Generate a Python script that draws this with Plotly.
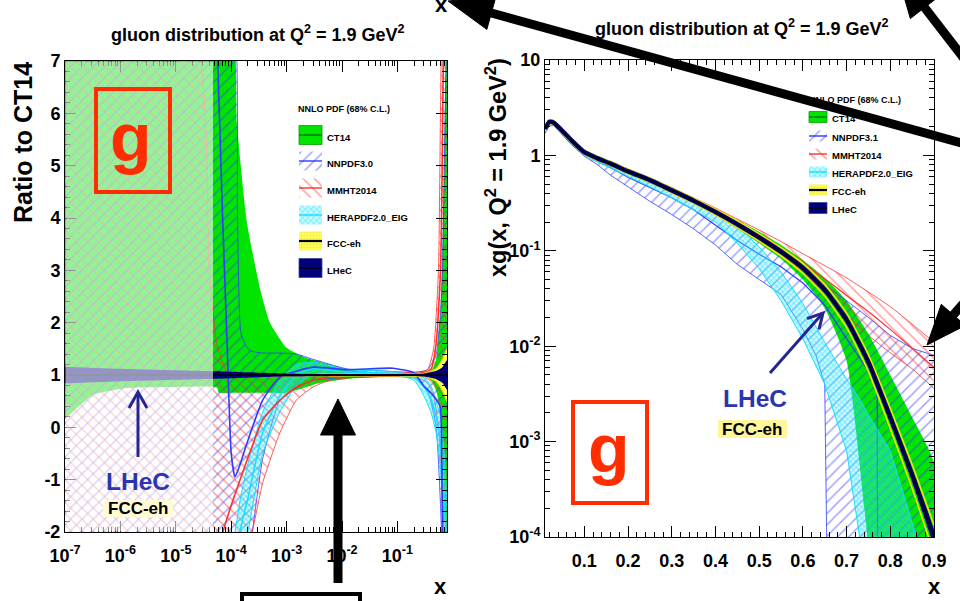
import math
import plotly.graph_objects as go

FONT = "Liberation Sans, Arial, Helvetica, sans-serif"

# ======================= LEFT PANEL: ratio to CT14 (log x) =======================
ct_r_x = [1e-7, 2e-7, 3.2e-7, 1.3e-6, 1e-5, 5.5e-5, 6e-5, 1.07e-4, 1.27e-4, 1.93e-4, 3.3e-4, 5e-4, 1e-3, 2e-3,
          4e-3, 0.0139, 0.0485, 0.1, 0.256, 0.35, 0.42, 0.5, 0.54, 0.6, 0.64, 0.7, 0.72, 0.785]
ct_r_lo = [0.15, 0.45, 0.62, 0.75, 0.77, 0.76, 0.66, 0.66, 0.66, 0.66, 0.66, 0.66, 0.66, 0.75,
           0.85, 0.93, 0.96, 0.97, 0.97, 0.94, 0.88, 0.7, 0.55, 0.2, -0.3, -1.2, -1.8, -3.0]
ct_r_hi = [7.5, 7.5, 7.5, 7.5, 7.5, 7.5, 7.5, 7.5, 5.8, 3.9, 2.66, 2.0, 1.52, 1.35,
           1.25, 1.1, 1.05, 1.04, 1.04, 1.06, 1.1, 1.3, 1.6, 2.2, 3.0, 5.0, 6.0, 8.0]

nn_r_x = [1e-7, 5.5e-5, 1.0e-4, 1.17e-4, 1.3e-4, 1.5e-4, 2e-4, 2.4e-4, 3.7e-4, 7.6e-4, 1.5e-3, 3e-3, 0.012,
          0.05, 0.2, 0.35, 0.5, 0.6, 0.65, 0.7, 0.785]
nn_r_lo = [-3.0, -3.0, -3.0, -3.0, -3.0, -3.0, -2.5, -2.0, -0.6, 0.52, 0.75, 0.9, 0.95,
           0.97, 0.95, 0.7, 0.0, -1.5, -2.5, -3.0, -3.0]
nn_r_hi = [7.5, 7.5, 7.5, 7.5, 4.0, 1.8, 1.5, 1.45, 1.42, 1.42, 1.4, 1.3, 1.12,
           1.08, 1.05, 1.1, 1.4, 2.2, 3.0, 5.0, 8.0]
nn_r_cx = [5.5e-5, 7e-5, 8.5e-5, 1.0e-4, 1.17e-4, 1.4e-4, 1.93e-4, 3.7e-4, 7.6e-4, 3e-3, 0.0123, 0.083,
           0.2, 0.29, 0.45, 0.59, 0.63, 0.66]
nn_r_c = [7.5, 4.0, 1.5, -0.5, -0.95, -0.75, -0.3, 0.52, 0.96, 1.15, 1.1, 1.13,
          1.04, 0.81, 0.6, 0.4, -0.5, -2.5]

mm_r_x = [1e-7, 2e-5, 4e-5, 5.5e-5, 8e-5, 1.4e-4, 2.4e-4, 3.7e-4, 7.6e-4, 1.5e-3, 3e-3, 6e-3, 0.02,
          0.1, 0.25, 0.35, 0.45, 0.55, 0.63, 0.7, 0.785]
mm_r_lo = [-3.0, -3.0, -3.0, -3.0, -3.0, -3.0, -2.0, -1.06, -0.1, 0.52, 0.77, 0.9, 0.96,
           0.97, 0.93, 0.85, 0.6, 0.0, -1.0, -2.0, -3.0]
mm_r_hi = [7.5, 7.5, 3.0, 1.6, 1.1, 1.0, 1.0, 1.0, 1.0, 1.0, 1.02, 1.03, 1.03,
           1.04, 1.06, 1.1, 1.5, 3.0, 7.5, 8.0, 8.0]
mm_r_cx = [6e-5, 7.1e-5, 1.07e-4, 1.93e-4, 3.7e-4, 7.6e-4, 1.5e-3, 3e-3, 0.012, 0.1, 0.25, 0.4, 0.5, 0.6, 0.68]
mm_r_c = [-2.5, -2.0, -1.4, -0.63, 0.14, 0.52, 0.77, 0.9, 1.0, 1.01, 1.03, 1.1, 1.6, 3.0, 7.5]

he_r_x = [1.17e-4, 1.5e-4, 2e-4, 3.7e-4, 7.6e-4, 1.5e-3, 3e-3, 0.012, 0.05, 0.1, 0.2, 0.3, 0.4, 0.5,
          0.6, 0.7, 0.785]
he_r_lo = [-3.0, -2.5, -2.0, -0.5, 0.3, 0.8, 1.0, 1.0, 1.0, 0.99, 0.9, 0.6, 0.3, -0.1,
           -0.8, -2.5, -3.0]
he_r_hi = [-2.0, -1.3, -0.7, 0.3, 0.9, 1.2, 1.25, 1.1, 1.08, 1.05, 1.0, 0.95, 0.8, 0.5,
           0.2, -0.5, -1.5]

eh_r_x = [1e-7, 1e-6, 1e-5, 5.5e-5, 1e-4, 1e-3, 0.01, 0.1, 0.3, 0.5, 0.65, 0.785]
fcc_r_hw = [0.08, 0.07, 0.05, 0.04, 0.035, 0.02, 0.015, 0.015, 0.03, 0.12, 0.3, 0.5]
lhec_r_hw = [0.16, 0.12, 0.09, 0.07, 0.06, 0.03, 0.018, 0.018, 0.03, 0.08, 0.15, 0.28]
ratio_ref_x = [1e-7, 0.785]
ratio_ref_y = [1.0, 1.0]

left_xticks = [1e-7, 1e-6, 1e-5, 1e-4, 1e-3, 1e-2, 1e-1]
left_xtext = ["10<sup>-7</sup>", "10<sup>-6</sup>", "10<sup>-5</sup>", "10<sup>-4</sup>",
              "10<sup>-3</sup>", "10<sup>-2</sup>", "10<sup>-1</sup>"]
left_yticks = [-2, -1, 0, 1, 2, 3, 4, 5, 6, 7]
left_ytext = ["-2", "-1", "0", "1", "2", "3", "4", "5", "6", "7"]

# ======================= RIGHT PANEL: xg(x) (log y) =======================
g_x = [0.01, 0.02, 0.03, 0.05, 0.07, 0.1, 0.13, 0.16, 0.2, 0.25, 0.3, 0.35, 0.4, 0.45, 0.5, 0.55,
       0.6, 0.65, 0.7, 0.75, 0.8, 0.85, 0.9]
g_c = [1.9, 2.25, 2.2, 1.8, 1.45, 1.08, 0.93, 0.82, 0.68, 0.55, 0.43, 0.335, 0.255, 0.19, 0.138, 0.098,
       0.066, 0.039, 0.019, 0.0068, 0.0018, 0.00045, 0.0001]
ct_g_lo = [1.75, 2.1, 2.05, 1.68, 1.35, 1.0, 0.86, 0.76, 0.63, 0.51, 0.4, 0.31, 0.235, 0.17, 0.12, 0.082,
           0.05, 0.025, 0.007, 0.00008, 0.000001, 0.000001, 0.000001]
ct_g_hi = [2.0, 2.38, 2.35, 1.93, 1.55, 1.16, 1.0, 0.88, 0.73, 0.59, 0.465, 0.36, 0.278, 0.21, 0.158, 0.115,
           0.08, 0.052, 0.03, 0.0135, 0.005, 0.0018, 0.0006]
fcc_g_rel = [0.05, 0.05, 0.05, 0.05, 0.05, 0.05, 0.05, 0.05, 0.05, 0.05, 0.06, 0.06, 0.07, 0.08, 0.09, 0.1,
             0.12, 0.14, 0.17, 0.2, 0.24, 0.28, 0.33]
lhec_g_rel = [0.025, 0.025, 0.025, 0.025, 0.025, 0.025, 0.025, 0.025, 0.025, 0.025, 0.03, 0.03, 0.035, 0.04,
              0.045, 0.05, 0.06, 0.07, 0.085, 0.1, 0.12, 0.14, 0.16]

nn_g_x = [0.01, 0.02, 0.03, 0.05, 0.07, 0.1, 0.13, 0.16, 0.2, 0.25, 0.3, 0.35, 0.4, 0.45, 0.5, 0.55, 0.6,
          0.63, 0.65, 0.66, 0.7, 0.75, 0.8, 0.85, 0.9]
nn_g_lo = [1.7, 2.05, 2.05, 1.65, 1.3, 0.98, 0.8, 0.62, 0.47, 0.33, 0.24, 0.17, 0.115, 0.072, 0.05, 0.035,
           0.015, 0.008, 0.004, 0.000001, 0.000001, 0.000001, 0.000001, 0.000001, 0.000001]
nn_g_hi = [1.95, 2.3, 2.3, 1.88, 1.5, 1.12, 0.96, 0.85, 0.7, 0.57, 0.445, 0.345, 0.262, 0.195, 0.142, 0.1, 0.07,
           0.055, 0.045, 0.041, 0.03, 0.02, 0.013, 0.0095, 0.008]
nn_g_cx = [0.01, 0.02, 0.03, 0.05, 0.07, 0.1, 0.13, 0.16, 0.2, 0.25, 0.3, 0.35, 0.4, 0.45, 0.5, 0.55, 0.6,
           0.65, 0.7, 0.75, 0.77, 0.772]
nn_g_c = [1.82, 2.17, 2.17, 1.76, 1.4, 1.05, 0.88, 0.74, 0.59, 0.46, 0.36, 0.27, 0.185, 0.128, 0.092, 0.068,
          0.046, 0.027, 0.012, 0.0055, 0.0035, 0.000001]

mm_g_x = [0.01, 0.02, 0.03, 0.05, 0.07, 0.1, 0.13, 0.16, 0.2, 0.25, 0.3, 0.35, 0.4, 0.45, 0.5, 0.55,
          0.6, 0.65, 0.7, 0.75, 0.8, 0.85, 0.9]
mm_g_lo = [1.78, 2.12, 2.1, 1.72, 1.38, 1.03, 0.88, 0.78, 0.65, 0.52, 0.41, 0.32, 0.245, 0.18, 0.13, 0.092,
           0.06, 0.037, 0.021, 0.013, 0.0085, 0.0058, 0.0036]
mm_g_hi = [1.98, 2.32, 2.3, 1.9, 1.52, 1.13, 0.97, 0.86, 0.72, 0.58, 0.455, 0.36, 0.28, 0.215, 0.165, 0.125,
           0.093, 0.07, 0.052, 0.037, 0.026, 0.017, 0.011]
mm_g_c = [1.88, 2.22, 2.2, 1.81, 1.45, 1.08, 0.93, 0.82, 0.685, 0.55, 0.432, 0.34, 0.262, 0.197, 0.147, 0.108,
          0.075, 0.051, 0.034, 0.023, 0.015, 0.0095, 0.006]

he_g_x = [0.01, 0.02, 0.03, 0.05, 0.07, 0.1, 0.13, 0.16, 0.2, 0.25, 0.3, 0.35, 0.4, 0.45, 0.5, 0.55, 0.6,
          0.65, 0.7, 0.73, 0.75, 0.8, 0.86, 0.9]
he_g_lo = [1.75, 2.1, 2.08, 1.7, 1.35, 1.0, 0.85, 0.74, 0.6, 0.47, 0.36, 0.27, 0.2, 0.12, 0.065, 0.03, 0.012,
           0.004, 0.0008, 0.0001, 0.00004, 0.000001, 0.000001, 0.000001]
he_g_hi = [1.95, 2.3, 2.3, 1.88, 1.5, 1.12, 0.96, 0.84, 0.69, 0.56, 0.44, 0.33, 0.25, 0.18, 0.11, 0.06, 0.028,
           0.011, 0.0045, 0.0028, 0.0019, 0.0008, 0.0001, 0.00004]

right_xticks = [0.1, 0.2, 0.3, 0.4, 0.5, 0.6, 0.7, 0.8, 0.9]
right_xtext = ["0.1", "0.2", "0.3", "0.4", "0.5", "0.6", "0.7", "0.8", "0.9"]
right_yticks = [1e-4, 1e-3, 1e-2, 1e-1, 1, 10]
right_ytext = ["10<sup>-4</sup>", "10<sup>-3</sup>", "10<sup>-2</sup>", "10<sup>-1</sup>", "1", "10"]

legend_labels_left = ["CT14", "NNPDF3.0", "MMHT2014", "HERAPDF2.0_EIG", "FCC-eh", "LHeC"]
legend_labels_right = ["CT14", "NNPDF3.1", "MMHT2014", "HERAPDF2.0_EIG", "FCC-eh", "LHeC"]

# ======================= styles =======================
GREEN = "#00e400"
BLUE = "#2f3cff"
RED = "#ff3030"
CYAN = "#10e0ff"
YELLOW = "#ffff55"
NAVY = "#00007a"
PAT_NN = dict(shape="/", fgcolor=BLUE, size=8, solidity=0.18, fillmode="overlay")
PAT_MM = dict(shape="\\", fgcolor=RED, size=8, solidity=0.18, fillmode="overlay")
PAT_HE = dict(shape="x", fgcolor=CYAN, size=4, solidity=0.45, fillmode="overlay")
HE_FILL = "rgba(90,235,255,0.28)"
PAT_FCC = dict(shape=".", fgcolor="#e8d84a", size=3, solidity=0.4, fillmode="overlay")

fig = go.Figure()


def band(xs, lo, hi, xa, ya, fill="rgba(0,0,0,0)", pattern=None, shape="spline"):
    fig.add_trace(go.Scatter(
        x=list(xs) + list(xs)[::-1], y=list(hi) + list(lo)[::-1],
        xaxis=xa, yaxis=ya, mode="lines", fill="toself", fillcolor=fill,
        fillpattern=pattern, line=dict(width=0, shape=shape, smoothing=0.5),
        hoverinfo="skip", showlegend=False))


def curve(xs, ys, xa, ya, color, width=1.0, shape="spline", dash="solid"):
    fig.add_trace(go.Scatter(
        x=list(xs), y=list(ys), xaxis=xa, yaxis=ya, mode="lines",
        line=dict(color=color, width=width, shape=shape, smoothing=0.5, dash=dash),
        hoverinfo="skip", showlegend=False))


# ---------- left panel traces ----------
band(ct_r_x, ct_r_lo, ct_r_hi, "x", "y", fill=GREEN)
band(nn_r_x, nn_r_lo, nn_r_hi, "x", "y", pattern=PAT_NN)
curve(nn_r_x, nn_r_lo, "x", "y", BLUE, 0.8)
curve(nn_r_x, nn_r_hi, "x", "y", BLUE, 0.8)
band(mm_r_x, mm_r_lo, mm_r_hi, "x", "y", pattern=PAT_MM)
curve(mm_r_x, mm_r_lo, "x", "y", RED, 0.8)
curve(mm_r_x, mm_r_hi, "x", "y", RED, 0.8)
band(he_r_x, he_r_lo, he_r_hi, "x", "y", fill=HE_FILL, pattern=PAT_HE)
curve(he_r_x, he_r_lo, "x", "y", CYAN, 1.0)
curve(he_r_x, he_r_hi, "x", "y", CYAN, 1.0)
curve(he_r_x, [(a + b) / 2 for a, b in zip(he_r_lo, he_r_hi)], "x", "y", CYAN, 1.5)
curve(nn_r_cx, nn_r_c, "x", "y", BLUE, 1.6)
curve(mm_r_cx, mm_r_c, "x", "y", RED, 1.6)
fcc_lo = [1 - h for h in fcc_r_hw]
fcc_hi = [1 + h for h in fcc_r_hw]
band(eh_r_x, fcc_lo, fcc_hi, "x", "y", fill=YELLOW)
curve(eh_r_x, fcc_lo, "x", "y", "#f0e000", 1.3)
curve(eh_r_x, fcc_hi, "x", "y", "#f0e000", 1.3)
band(eh_r_x, [1 - h for h in lhec_r_hw], [1 + h for h in lhec_r_hw], "x", "y", fill=NAVY)
curve(ratio_ref_x, ratio_ref_y, "x", "y", "black", 1.5, shape="linear")

# ---------- right panel traces ----------
band(g_x, ct_g_lo, ct_g_hi, "x2", "y2", fill=GREEN)
band(nn_g_x, nn_g_lo, nn_g_hi, "x2", "y2", pattern=PAT_NN, shape="linear")
curve(nn_g_x, nn_g_lo, "x2", "y2", BLUE, 0.8, shape="linear")
curve(nn_g_x, nn_g_hi, "x2", "y2", BLUE, 0.8, shape="linear")
curve(nn_g_cx, nn_g_c, "x2", "y2", BLUE, 1.2, shape="linear")
band(mm_g_x, mm_g_lo, mm_g_hi, "x2", "y2", pattern=PAT_MM)
curve(mm_g_x, mm_g_lo, "x2", "y2", RED, 0.8)
curve(mm_g_x, mm_g_hi, "x2", "y2", RED, 0.8)
curve(mm_g_x, mm_g_c, "x2", "y2", RED, 1.2)
band(he_g_x, he_g_lo, he_g_hi, "x2", "y2", fill=HE_FILL, pattern=PAT_HE, shape="linear")
curve(he_g_x, he_g_lo, "x2", "y2", CYAN, 1.0, shape="linear")
curve(he_g_x, he_g_hi, "x2", "y2", CYAN, 1.0, shape="linear")
curve(g_x, [c * (1 - r) for c, r in zip(g_c, fcc_g_rel)], "x2", "y2", "#f5e600", 1.6)
curve(g_x, [c * (1 + r) for c, r in zip(g_c, fcc_g_rel)], "x2", "y2", "#f5e600", 1.6)
band(g_x, [c * (1 - r) for c, r in zip(g_c, lhec_g_rel)], [c * (1 + r) for c, r in zip(g_c, lhec_g_rel)],
     "x2", "y2", fill=NAVY)
curve(g_x, g_c, "x2", "y2", NAVY, 4.5)
curve(g_x, g_c, "x2", "y2", "black", 1.4)


# ---------- legend swatches (pixel overlay axis) ----------
def swatch(x0, yc, w, h, kind):
    xs = [x0, x0 + w, x0 + w, x0, x0]
    ys = [yc - h / 2, yc - h / 2, yc + h / 2, yc + h / 2, yc - h / 2]
    fill, pat, lc, border = "rgba(0,0,0,0)", None, "black", None
    if kind == 0:
        fill, lc, border = GREEN, "#107010", "#00a000"
    elif kind == 1:
        pat, lc = PAT_NN, BLUE
    elif kind == 2:
        pat, lc = PAT_MM, RED
    elif kind == 3:
        fill, pat, lc = HE_FILL, PAT_HE, CYAN
    elif kind == 4:
        fill, pat, lc = YELLOW, PAT_FCC, "black"
    else:
        fill, lc, border = NAVY, "black", "#4040a0"
    fig.add_trace(go.Scatter(x=xs, y=ys, xaxis="x3", yaxis="y3", mode="lines", fill="toself",
                             fillcolor=fill, fillpattern=pat,
                             line=dict(width=0.8 if border else 0, color=border or "rgba(0,0,0,0)"),
                             hoverinfo="skip", showlegend=False))
    fig.add_trace(go.Scatter(x=[x0, x0 + w], y=[yc, yc], xaxis="x3", yaxis="y3", mode="lines",
                             line=dict(width=2.2 if kind == 4 else 1.4, color=lc),
                             hoverinfo="skip", showlegend=False))


annotations = []


def ann(x, y, text, size, color="black", xanchor="center", yanchor="middle", angle=0, bg=None, bold=True):
    annotations.append(dict(x=x, y=y, xref="x3", yref="y3", text=text, showarrow=False,
                            xanchor=xanchor, yanchor=yanchor, textangle=angle,
                            font=dict(family=FONT, size=size, color=color, weight="bold" if bold else "normal"),
                            bgcolor=bg, borderpad=0))


left_leg_y = [137, 163, 190, 217, 243, 270]
for i, (lab, yy) in enumerate(zip(legend_labels_left, left_leg_y)):
    swatch(299, yy - 2, 23, 19, i)
    ann(326, yy, lab, 9.5, xanchor="left")
ann(297, 109, "NNLO PDF (68% C.L.)", 9, xanchor="left")

right_leg_y = [118, 137, 155, 173, 191, 209]
for i, (lab, yy) in enumerate(zip(legend_labels_right, right_leg_y)):
    swatch(809, yy - 1, 18, 11, i)
    ann(831, yy, lab, 9.5, xanchor="left")
ann(808, 100, "NNLO PDF (68% C.L.)", 9, xanchor="left")

# titles and axis titles
ann(258, 33, "gluon distribution at Q<sup>2</sup> = 1.9 GeV<sup>2</sup>", 18)
ann(742, 27, "gluon distribution at Q<sup>2</sup> = 1.9 GeV<sup>2</sup>", 18)
ann(23, 143, "Ratio to CT14", 25, angle=-90)
ann(496, 168, "xg(x, Q<sup>2</sup> = 1.9 GeV<sup>2</sup>)", 23.5, angle=-90)
ann(440, 586, "x", 22)
ann(934, 586, "x", 22)
ann(441, 18, "x", 22, yanchor="bottom")

# g labels
ann(131, 137, "g", 68, color="#ff2d00")
ann(609, 448, "g", 68, color="#ff2d00")

# LHeC / FCC-eh labels
ann(138, 481, "LHeC", 24.5, color="#2a36b0")
ann(138, 508, "FCC-eh", 17)
ann(755, 398, "LHeC", 24.5, color="#2a36b0")
ann(752, 429, "FCC-eh", 17)

# ---------- shapes ----------
shapes = []


def sh(**kw):
    base = dict(xref="x3", yref="y3", layer="above")
    base.update(kw)
    shapes.append(base)


# faded extrapolation region of the left panel
sh(type="rect", x0=65.5, x1=213, y0=61.5, y1=531.5, fillcolor="rgba(255,255,255,0.58)", line=dict(width=0))

# FCC-eh label backgrounds
sh(type="rect", x0=103, x1=173, y0=500, y1=517, fillcolor="#fff59a", line=dict(width=0), layer="below")
sh(type="rect", x0=718, x1=787, y0=420, y1=438, fillcolor="#fff59a", line=dict(width=0), layer="below")

# red g boxes
sh(type="rect", x0=96, x1=170, y0=89, y1=192, line=dict(color="#ff2d00", width=4))
sh(type="rect", x0=573, x1=647, y0=402, y1=503, line=dict(color="#ff2d00", width=4))

# LHeC pointer arrows (dark blue)
AB = "#262690"
sh(type="line", x0=138, y0=457, x1=138, y1=393, line=dict(color=AB, width=3))
sh(type="path", path="M 129,408 L 138,392 L 147,408", line=dict(color=AB, width=3))
sh(type="line", x0=770, y0=373, x1=822, y1=314, line=dict(color=AB, width=3))
sh(type="path", path="M 807,318.7 L 823,313 L 819,329.3", line=dict(color=AB, width=3))


def big_arrow(tail, tip, width=9, hl=42, hw=17):
    dx, dy = tip[0] - tail[0], tip[1] - tail[1]
    n = math.hypot(dx, dy)
    ux, uy = dx / n, dy / n
    bx, by = tip[0] - ux * hl, tip[1] - uy * hl
    px, py = -uy * hw, ux * hw
    sh(type="line", x0=tail[0], y0=tail[1], x1=bx, y1=by, line=dict(color="black", width=width))
    sh(type="path", path=f"M {tip[0]},{tip[1]} L {bx + px},{by + py} L {bx - px},{by - py} Z",
       fillcolor="black", line=dict(color="black", width=1))


big_arrow((990, 151), (448, 1), hl=45, hw=17)
big_arrow((990, 92), (897, -28), hl=45, hw=18)
big_arrow((1010, 250), (927, 345), hl=40, hw=16)
big_arrow((338, 583), (338, 399), hl=36, hw=17.5)
sh(type="rect", x0=242, x1=360, y0=594, y1=615, line=dict(color="black", width=4))

# ---------- axes ----------
def frame_axis(**kw):
    base = dict(showline=True, linecolor="black", linewidth=1, mirror="allticks", ticks="inside",
                ticklen=11, tickwidth=1, tickcolor="black", showgrid=False, zeroline=False,
                automargin=False,
                tickfont=dict(family=FONT, size=18, color="black", weight="bold"))
    base.update(kw)
    return base


minor_style = dict(ticks="inside", ticklen=5, tickwidth=1, tickcolor="black", showgrid=False)
left_minor = [m * 10.0 ** d for d in range(-7, 0) for m in range(2, 10) if m * 10.0 ** d < 0.785]
right_minor = [m * 10.0 ** d for d in range(-4, 1) for m in range(2, 10)]

fig.update_layout(
    width=960, height=601, margin=dict(l=0, r=0, t=0, b=0, pad=0, autoexpand=False),
    paper_bgcolor="white", plot_bgcolor="rgba(0,0,0,0)", showlegend=False,
    xaxis=frame_axis(domain=[65 / 960, 447 / 960], type="log", range=[-7, math.log10(0.785)],
                     tickvals=left_xticks, ticktext=left_xtext, anchor="y", ticklabelstandoff=7,
                     minor=dict(tickvals=left_minor, **minor_style)),
    yaxis=frame_axis(domain=[1 - 532 / 601, 1 - 61 / 601], range=[-2, 7], tickvals=left_yticks,
                     ticktext=left_ytext, anchor="x",
                     minor=dict(dtick=0.2, **minor_style)),
    xaxis2=frame_axis(domain=[545 / 960, 934 / 960], range=[0.01, 0.9], tickvals=right_xticks,
                      ticktext=right_xtext, anchor="y2", ticklabelstandoff=7,
                      minor=dict(dtick=0.02, tick0=0, **minor_style)),
    yaxis2=frame_axis(domain=[1 - 537 / 601, 1 - 60 / 601], type="log", range=[-4, 1],
                      tickvals=right_yticks, ticktext=right_ytext, anchor="x2",
                      minor=dict(tickvals=right_minor, **minor_style)),
    xaxis3=dict(domain=[0, 1], range=[0, 960], visible=False, anchor="y3", fixedrange=True, automargin=False),
    yaxis3=dict(domain=[0, 1], range=[601, 0], visible=False, anchor="x3", fixedrange=True, automargin=False),
    annotations=annotations, shapes=shapes,
)

fig.write_html("out.html", config={"displayModeBar": False},
               post_script="document.body.style.margin='0px';document.body.style.overflow='hidden';")
